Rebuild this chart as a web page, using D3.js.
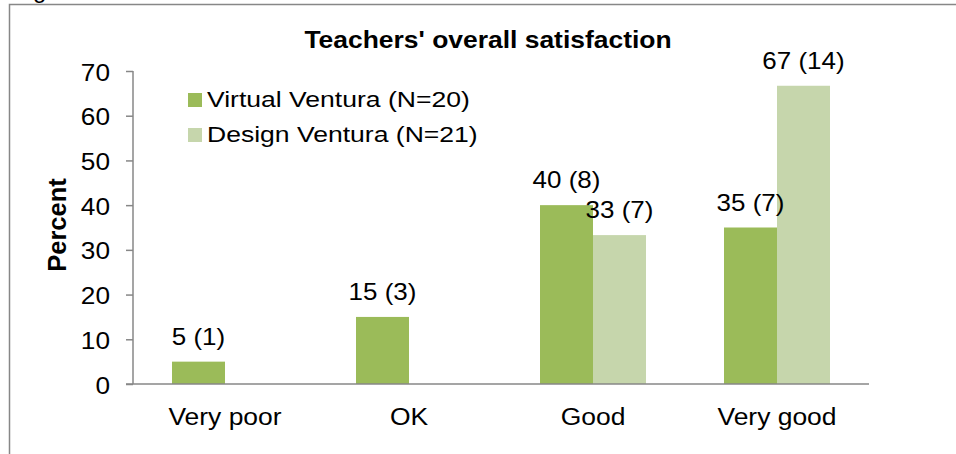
<!DOCTYPE html>
<html>
<head>
<meta charset="utf-8">
<script src="https://cdn.jsdelivr.net/npm/d3@7"></script>
<style>
  body { margin: 0; background: #fff; }
  svg { display: block; font-family: "Liberation Sans", Arial, sans-serif; }
</style>
</head>
<body>
<div id="chart"></div>
<script>
// chart values
var categories = ["Very poor", "OK", "Good", "Very good"];
var seriesNames = ["Virtual Ventura (N=20)", "Design Ventura (N=21)"];
var virtualPct = [5, 15, 40, 35];
var virtualN = [1, 3, 8, 7];
var designPct = [0, 0, 33.3, 66.7];
var designN = [0, 0, 7, 14];
var yTicks = [0, 10, 20, 30, 40, 50, 60, 70];
var colors = ["#9bbb59", "#c6d6ac"];

var width = 956, height = 454;

var svg = d3.select("#chart")
    .append("svg")
    .attr("width", width)
    .attr("height", height);

// outer frame (runs off the picture on the right and bottom)
svg.append("rect")
    .attr("x", 9.5)
    .attr("y", 4.5)
    .attr("width", 980)
    .attr("height", 480)
    .attr("fill", "none")
    .attr("stroke", "#878787")
    .attr("stroke-width", 1.5);

// caption cut off at the top, as in the source
svg.append("text")
    .attr("x", 13)
    .attr("y", -2)
    .attr("font-size", 24)
    .text("Figure");

var x0 = d3.scaleBand()
    .domain(categories)
    .range([133, 869])
    .paddingInner(0.424)
    .paddingOuter(0.212);

var x1 = d3.scaleBand()
    .domain([0, 1])
    .range([0, x0.bandwidth()]);

var y = d3.scaleLinear()
    .domain([0, 70])
    .range([384, 71]);

var rows = categories.map(function(c, i) {
    return [
        { cat: c, s: 0, v: virtualPct[i], n: virtualN[i] },
        { cat: c, s: 1, v: designPct[i], n: designN[i] }
    ];
});

// bars
var groups = svg.selectAll(".grp")
    .data(rows)
    .enter()
    .append("g")
    .attr("class", "grp")
    .attr("transform", function(d, i) {
        return "translate(" + x0(categories[i]) + ",0)";
    });

groups.selectAll("rect")
    .data(function(d) { return d; })
    .enter()
    .append("rect")
    .attr("x", function(d) { return x1(d.s); })
    .attr("width", x1.bandwidth())
    .attr("y", function(d) { return y(d.v); })
    .attr("height", function(d) { return y(0) - y(d.v); })
    .attr("fill", function(d) { return colors[d.s]; });

// value labels
groups.selectAll(".lbl")
    .data(function(d) { return d.filter(function(e) { return e.v > 0; }); })
    .enter()
    .append("text")
    .attr("class", "lbl")
    .attr("text-anchor", "middle")
    .attr("font-size", 24.5)
    .attr("transform", function(d) {
        return "translate(" + (x1(d.s) + x1.bandwidth() / 2) + "," + (y(d.v) - 17) + ") scale(1.06,1)";
    })
    .text(function(d) { return Math.round(d.v) + " (" + d.n + ")"; });

// y axis
var yAxis = svg.append("g")
    .attr("transform", "translate(133,0)")
    .call(d3.axisLeft(y).tickValues(yTicks).tickSize(7).tickPadding(0).tickFormat(d3.format("d")));

yAxis.select(".domain")
    .attr("d", "M0," + y(70) + "V" + y(0))
    .attr("stroke", "#878787")
    .attr("stroke-width", 1.5);
yAxis.selectAll(".tick line")
    .attr("stroke", "#878787")
    .attr("stroke-width", 1.5);
yAxis.selectAll(".tick text")
    .attr("x", 0)
    .attr("dy", null)
    .attr("y", 0)
    .attr("font-family", "Liberation Sans, Arial, sans-serif")
    .attr("font-size", 24.5)
    .attr("fill", "#000")
    .attr("text-anchor", "end")
    .attr("transform", "translate(-23,9) scale(1.07,1)");

// x axis
var xAxis = svg.append("g")
    .attr("transform", "translate(0," + y(0) + ")")
    .call(d3.axisBottom(x0).tickSize(0).tickPadding(0));

xAxis.select(".domain")
    .attr("d", "M126,0H869")
    .attr("stroke", "#878787")
    .attr("stroke-width", 1.5);
xAxis.selectAll(".tick text")
    .attr("dy", null)
    .attr("y", 0)
    .attr("font-family", "Liberation Sans, Arial, sans-serif")
    .attr("font-size", 24.5)
    .attr("fill", "#000")
    .attr("transform", "translate(0,41) scale(1.08,1)");

// axis title
svg.append("text")
    .attr("transform", "translate(66,225) rotate(-90)")
    .attr("text-anchor", "middle")
    .attr("font-weight", "bold")
    .attr("font-size", 25.5)
    .text("Percent");

// chart title
svg.append("text")
    .attr("transform", "translate(488,48) scale(1.15,1)")
    .attr("text-anchor", "middle")
    .attr("font-weight", "bold")
    .attr("font-size", 23)
    .text("Teachers' overall satisfaction");

// legend
var legend = svg.selectAll(".leg")
    .data(seriesNames)
    .enter()
    .append("g")
    .attr("class", "leg")
    .attr("transform", function(d, i) { return "translate(188," + (93 + i * 35) + ")"; });

legend.append("rect")
    .attr("width", 14)
    .attr("height", 14)
    .attr("fill", function(d, i) { return colors[i]; });

legend.append("text")
    .attr("transform", "translate(19,14) scale(1.18,1)")
    .attr("font-size", 22.5)
    .text(function(d) { return d; });
</script>
</body>
</html>
